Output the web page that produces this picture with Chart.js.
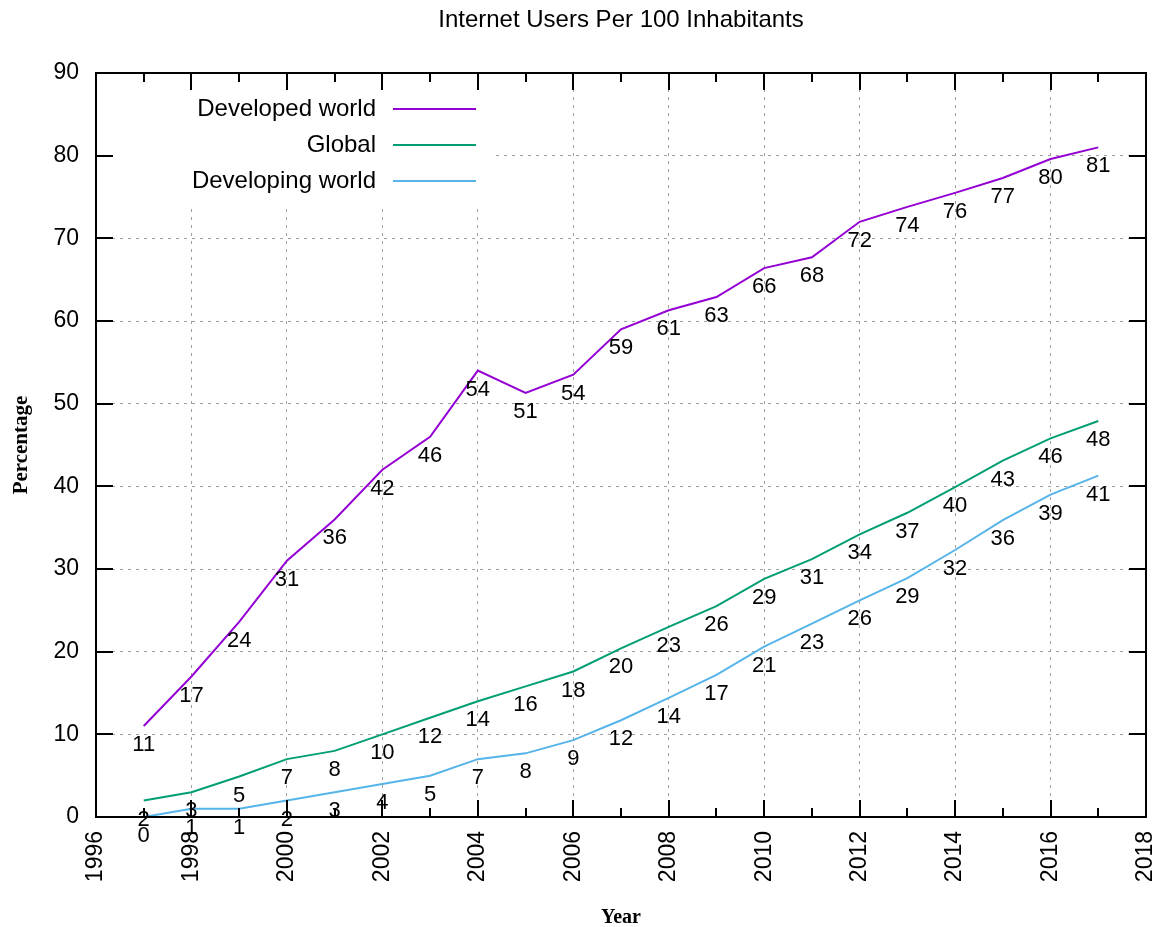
<!DOCTYPE html>
<html>
<head>
<meta charset="utf-8">
<script src="https://cdn.jsdelivr.net/npm/chart.js@4/dist/chart.umd.min.js"></script>
<style>
  html, body { margin: 0; padding: 0; background: #fff; }
  #wrap { width: 1163px; height: 927px; }
</style>
</head>
<body>
<div id="wrap"><canvas id="chart" width="1163" height="927"></canvas></div>
<script>
// Data
const years = [1997, 1998, 1999, 2000, 2001, 2002, 2003, 2004, 2005, 2006, 2007,
               2008, 2009, 2010, 2011, 2012, 2013, 2014, 2015, 2016, 2017];
const developed = [11, 17, 23.6, 31, 36, 42, 46, 54, 51.3, 53.5, 59,
                   61.3, 62.9, 66.4, 67.7, 72, 73.8, 75.5, 77.3, 79.6, 81];
const global = [2, 3, 4.9, 7, 8, 10, 12, 14, 15.8, 17.6, 20.4,
                23, 25.5, 28.8, 31.2, 34.2, 36.8, 39.9, 43.1, 45.8, 47.9];
const developing = [0, 1, 1, 2, 3, 4, 5, 7, 7.7, 9.3, 11.7,
                    14.4, 17.2, 20.6, 23.4, 26.2, 28.9, 32.3, 35.9, 39, 41.3];

const seriesNames = ["Developed world", "Global", "Developing world"];
const seriesColors = ["#9400d3", "#009e73", "#56b4e9"];

const SANS = "'Liberation Sans', Arial, sans-serif";
const SERIF = "'Liberation Serif', 'Times New Roman', serif";

// -----------------------------
// PLUGIN: legend box, frame, ticks, labels
// -----------------------------
const gnuplotLook = {
  id: "gnuplotLook",
  beforeDatasetsDraw(chart) {
    const ctx = chart.ctx;
    const a = chart.chartArea;
    // white box behind the legend hides the grid
    ctx.save();
    ctx.fillStyle = "#fff";
    ctx.fillRect(a.left, a.top, 396, 132);
    ctx.restore();
  },
  afterDatasetsDraw(chart) {
    const ctx = chart.ctx;
    const a = chart.chartArea;
    const xs = chart.scales.x;
    const ys = chart.scales.y;

    // point labels under each point
    ctx.save();
    ctx.font = "22px " + SANS;
    ctx.fillStyle = "#000";
    ctx.textAlign = "center";
    ctx.textBaseline = "middle";
    chart.data.datasets.forEach(ds => {
      ds.data.forEach(pt => {
        const px = xs.getPixelForValue(pt.x);
        const py = ys.getPixelForValue(pt.y);
        ctx.fillText(String(Math.round(pt.y)), px, py + 19);
      });
    });
    ctx.restore();

    // frame
    ctx.save();
    ctx.strokeStyle = "#000";
    ctx.lineWidth = 2;
    ctx.strokeRect(a.left, a.top, a.right - a.left, a.bottom - a.top);

    // x ticks, major every 2 years, minor every year, on top and bottom
    for (let yr = 1996; yr <= 2018; yr++) {
      const px = Math.round(xs.getPixelForValue(yr));
      const len = yr % 2 === 0 ? 17 : 9;
      ctx.beginPath();
      ctx.moveTo(px, a.bottom);
      ctx.lineTo(px, a.bottom - len);
      ctx.moveTo(px, a.top);
      ctx.lineTo(px, a.top + len);
      ctx.stroke();
    }
    // y ticks on left and right
    for (let v = 0; v <= 90; v += 10) {
      const py = Math.round(ys.getPixelForValue(v));
      ctx.beginPath();
      ctx.moveTo(a.left, py);
      ctx.lineTo(a.left + 17, py);
      ctx.moveTo(a.right, py);
      ctx.lineTo(a.right - 17, py);
      ctx.stroke();
    }
    ctx.restore();
  },
  afterDraw(chart) {
    const ctx = chart.ctx;
    const a = chart.chartArea;

    // title
    ctx.save();
    ctx.font = "24px " + SANS;
    ctx.fillStyle = "#000";
    ctx.textAlign = "center";
    ctx.textBaseline = "middle";
    ctx.fillText("Internet Users Per 100 Inhabitants", (a.left + a.right) / 2, 20);

    // legend
    ctx.textAlign = "right";
    seriesNames.forEach((name, i) => {
      const ty = 109 + i * 36;
      ctx.fillStyle = "#000";
      ctx.fillText(name, 376, ty);
      ctx.strokeStyle = seriesColors[i];
      ctx.lineWidth = 2;
      ctx.beginPath();
      ctx.moveTo(393, ty);
      ctx.lineTo(476, ty);
      ctx.stroke();
    });
    ctx.restore();
  }
};

// -----------------------------
// CHART
// -----------------------------
const allSeries = [developed, global, developing];

new Chart(document.getElementById("chart"), {
  type: "line",
  data: {
    datasets: allSeries.map((vals, i) => ({
      label: seriesNames[i],
      data: vals.map((v, j) => ({ x: years[j], y: v })),
      borderColor: seriesColors[i],
      borderWidth: 2,
      pointRadius: 0,
      tension: 0,
      fill: false
    }))
  },
  options: {
    responsive: false,
    animation: false,
    layout: { padding: { top: 73, right: 17, left: 0, bottom: 0 } },
    plugins: {
      legend: { display: false },
      title: { display: false },
      tooltip: { enabled: false }
    },
    scales: {
      x: {
        type: "linear",
        min: 1996,
        max: 2018,
        afterFit: s => { s.height = 110; s.paddingLeft = 0; s.paddingRight = 0; },
        ticks: {
          stepSize: 2,
          minRotation: 90,
          maxRotation: 90,
          padding: 14,
          color: "#000",
          font: { family: SANS, size: 23 },
          callback: v => String(v)
        },
        grid: { color: "#a0a0a0", lineWidth: 1, drawTicks: false },
        border: { display: false, dash: [3, 5] },
        title: {
          display: true,
          text: "Year",
          color: "#000",
          font: { family: SERIF, size: 20, weight: "bold" },
          padding: { top: 0, bottom: -3 }
        }
      },
      y: {
        min: 0,
        max: 90,
        afterFit: s => { s.width = 96; s.paddingTop = 0; s.paddingBottom = 0; },
        ticks: {
          stepSize: 10,
          padding: 17,
          color: "#000",
          font: { family: SANS, size: 23 }
        },
        grid: { color: "#a0a0a0", lineWidth: 1, drawTicks: false },
        border: { display: false, dash: [3, 5] },
        title: {
          display: true,
          text: "Percentage",
          color: "#000",
          font: { family: SERIF, size: 21, weight: "bold" },
          padding: { top: 9, bottom: 0 }
        }
      }
    }
  },
  plugins: [gnuplotLook]
});
</script>
</body>
</html>
